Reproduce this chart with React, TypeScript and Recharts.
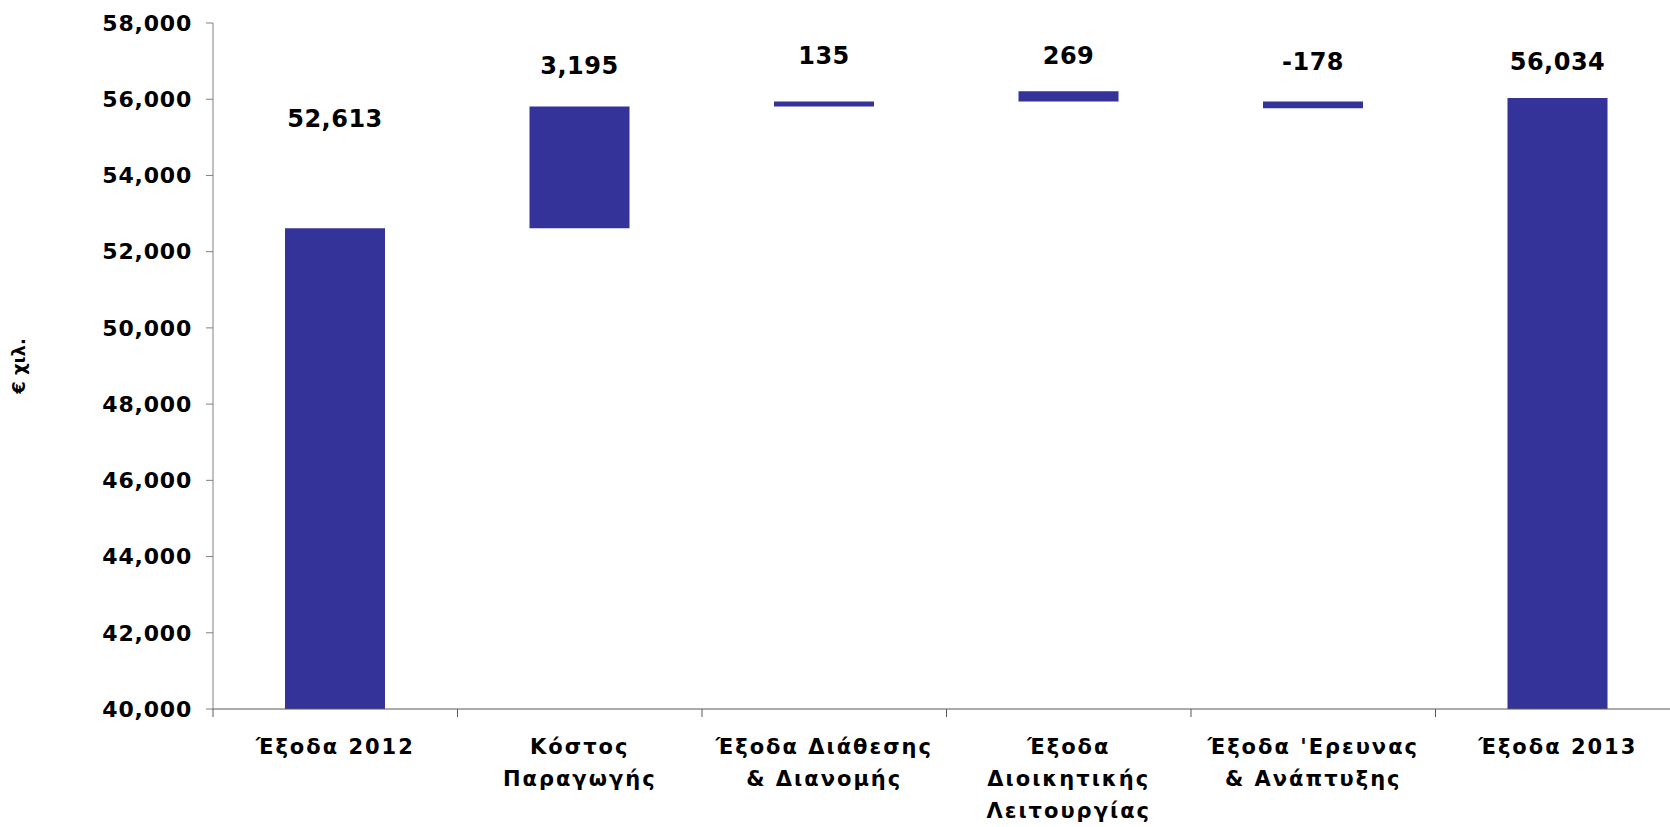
import { BarChart, Bar, XAxis, YAxis, LabelList, Label } from "recharts";

// waterfall: what each step adds, and where each floating bar starts / ends
const CATEGORIES = [
  "Έξοδα 2012",
  "Κόστος\nΠαραγωγής",
  "Έξοδα Διάθεσης\n& Διανομής",
  "Έξοδα\nΔιοικητικής\nΛειτουργίας",
  "Έξοδα 'Ερευνας\n& Ανάπτυξης",
  "Έξοδα 2013",
];
const CHANGES = [52613, 3195, 135, 269, -178, 56034];
const BAR_LOW = [40000, 52613, 55808, 55943, 55765, 40000];
const BAR_HIGH = [52613, 55808, 55943, 56212, 55943, 56034];
const Y_TICKS = [40000, 42000, 44000, 46000, 48000, 50000, 52000, 54000, 56000, 58000];

const CHART_W = 1700;
const CHART_H = 827;
const MARGIN = { top: 23, right: 20, bottom: 0, left: 0 };
const Y_AXIS_W = 213;
const BAND = (CHART_W - MARGIN.left - MARGIN.right - Y_AXIS_W) / CATEGORIES.length;

// how far above each bar top its value sits (px)
const LABEL_GAP = [109, 41, 45, 35, 39, 36];

const FONT = "'DejaVu Sans', Verdana, sans-serif";
const BAR_COLOR = "#333399";
const Y_LINE = "#808080";
const X_LINE = "#595959";

const data = CATEGORIES.map((name, i) => ({
  name,
  range: [BAR_LOW[i], BAR_HIGH[i]],
}));

const fmt = (v: number) => v.toLocaleString("en-US");

function CategoryTick(props: any) {
  const { x, y, payload, index } = props;
  const lines = String(payload.value).split("\n");
  const left = x - BAND / 2;
  const right = x + BAND / 2;
  return (
    <g>
      <line x1={left} y1={y} x2={left} y2={y + 8} stroke={X_LINE} strokeWidth={1} />
      {index === CATEGORIES.length - 1 && (
        <line x1={right} y1={y} x2={right} y2={y + 8} stroke={X_LINE} strokeWidth={1} />
      )}
      <text
        x={x}
        y={y + 45}
        textAnchor="middle"
        fill="#000"
        fontFamily={FONT}
        fontWeight="bold"
        fontSize={21}
        letterSpacing={2}
      >
        {lines.map((line, i) => (
          <tspan key={i} x={x} dy={i === 0 ? 0 : 32}>
            {line}
          </tspan>
        ))}
      </text>
    </g>
  );
}

function ValueLabel(props: any) {
  const { x, y, width, index } = props;
  if (index == null) return null;
  return (
    <text
      x={x + width / 2}
      y={y - LABEL_GAP[index]}
      textAnchor="middle"
      dominantBaseline="central"
      fill="#000"
      fontFamily={FONT}
      fontWeight="bold"
      fontSize={24}
      letterSpacing={0.5}
    >
      {fmt(CHANGES[index])}
    </text>
  );
}

function YTitle(props: any) {
  const { viewBox } = props;
  const cx = viewBox.x + 18;
  const cy = viewBox.y + viewBox.height / 2;
  return (
    <text
      x={cx}
      y={cy}
      transform={`rotate(-90, ${cx}, ${cy})`}
      textAnchor="middle"
      dominantBaseline="central"
      fill="#000"
      fontFamily={FONT}
      fontWeight="bold"
      fontSize={18}
    >
      € χιλ.
    </text>
  );
}

export default function App() {
  return (
    <div
      style={{
        position: "fixed",
        left: 0,
        top: 0,
        width: 1670,
        height: 827,
        overflow: "hidden",
        background: "#fff",
      }}
    >
      <BarChart
        width={CHART_W}
        height={CHART_H}
        data={data}
        margin={MARGIN}
        style={{ overflow: "visible" }}
      >
        <XAxis
          dataKey="name"
          interval={0}
          tickLine={false}
          tickSize={0}
          tickMargin={0}
          height={CHART_H - MARGIN.top - 686}
          axisLine={{ stroke: X_LINE, strokeWidth: 1 }}
          tick={<CategoryTick />}
        />
        <YAxis
          width={Y_AXIS_W}
          domain={[40000, 58000]}
          ticks={Y_TICKS}
          allowDataOverflow
          tickFormatter={fmt}
          tickSize={7}
          tickMargin={14}
          axisLine={{ stroke: Y_LINE, strokeWidth: 1 }}
          tickLine={{ stroke: Y_LINE, strokeWidth: 1 }}
          tick={{
            fill: "#000",
            fontFamily: FONT,
            fontWeight: "bold",
            fontSize: 22,
            letterSpacing: 0.8,
          }}
        >
          <Label content={<YTitle />} />
        </YAxis>
        <Bar dataKey="range" fill={BAR_COLOR} barSize={100} isAnimationActive={false}>
          <LabelList dataKey="range" content={<ValueLabel />} />
        </Bar>
      </BarChart>
    </div>
  );
}
